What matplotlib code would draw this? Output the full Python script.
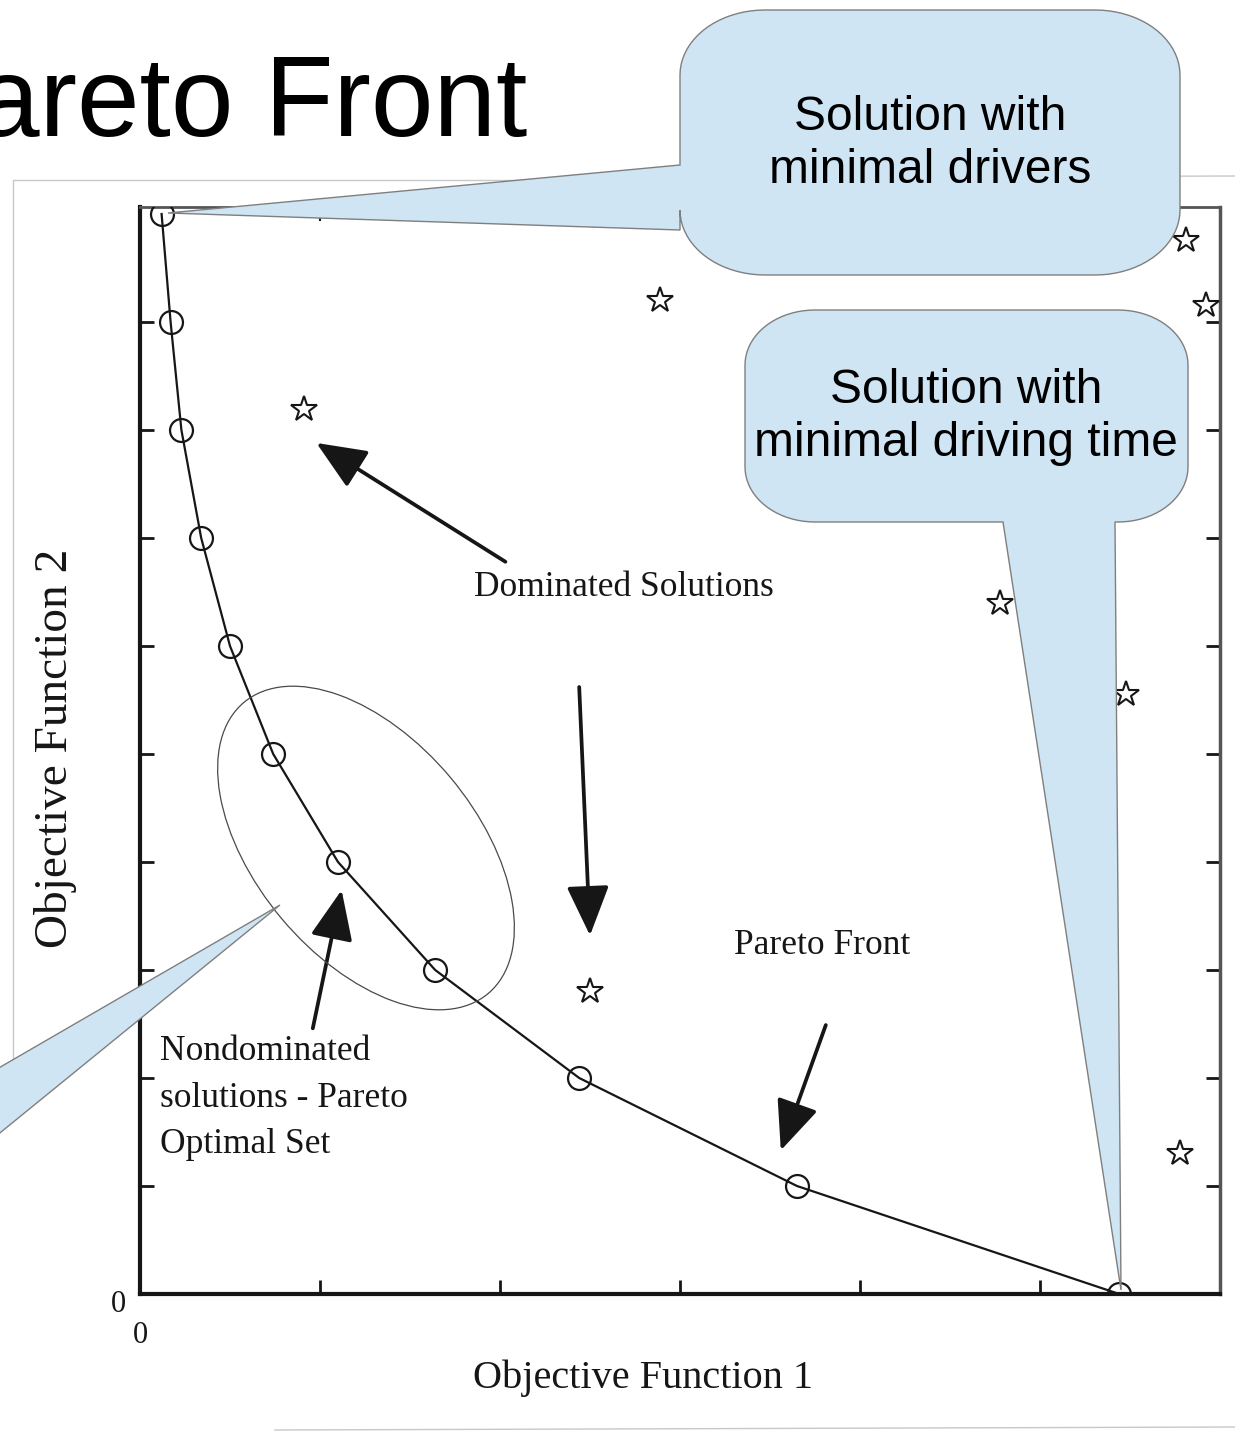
import numpy as np
import matplotlib
matplotlib.use('Agg')
import matplotlib.pyplot as plt
from matplotlib.patches import Polygon, Ellipse

# Pareto front (circles) and dominated solutions (stars)
front_x = [0.12, 0.17, 0.23, 0.34, 0.50, 0.74, 1.10, 1.64, 2.44, 3.65, 5.44]
front_y = [10, 9, 8, 7, 6, 5, 4, 3, 2, 1, 0]
dominated_x = [0.91, 2.89, 5.81, 5.92, 4.78, 5.48, 2.50, 5.78]
dominated_y = [8.19, 9.20, 9.76, 9.16, 6.40, 5.56, 2.81, 1.31]
x_ticks = [1, 2, 3, 4, 5]
y_ticks = [1, 2, 3, 4, 5, 6, 7, 8, 9]

W, H = 1235, 1433
SERIF = ['Liberation Serif', 'DejaVu Serif']
SANS = ['Liberation Sans', 'DejaVu Sans']
BLUE = '#cfe5f4'
INK = '#161616'

fig = plt.figure(figsize=(W / 100, H / 100), dpi=100)
fig.patch.set_facecolor('white')

# main chart axes (pixel box 140..1220 x 207..1294)
ax = fig.add_axes([140 / W, 1 - 1294 / H, 1080 / W, 1087 / H])
ax.set_xlim(0, 6)
ax.set_ylim(0, 1087 / 108)

ax.plot(front_x, front_y, '-', color=INK, lw=1.6, zorder=3)
ax.plot(front_x, front_y, 'o', ms=16.5, mfc='none', mec=INK, mew=1.6, zorder=4)
ax.plot(dominated_x, dominated_y, '*', ms=19, mfc='none', mec=INK, mew=1.5,
        linestyle='none', zorder=4)

for side in ['left', 'bottom']:
    ax.spines[side].set_linewidth(3)
    ax.spines[side].set_color(INK)
ax.spines['right'].set_linewidth(2.5)
ax.spines['right'].set_color('#555555')
ax.spines['top'].set_linewidth(2)
ax.spines['top'].set_color('#555555')

ax.set_xticks(x_ticks)
ax.set_yticks(y_ticks)
ax.set_xticklabels([])
ax.set_yticklabels([])
ax.tick_params(direction='in', length=10, width=2, color=INK,
               top=True, right=True)
for t in ax.xaxis.get_major_ticks():
    t.tick2line.set_color('#c4c4c4')
    t.tick2line.set_markeredgewidth(1.5)

# axis zeros
ax.text(-0.12, -0.1, '0', fontsize=22, family=SERIF, color=INK,
        ha='center', va='center', clip_on=False)
ax.text(0.0, -0.38, '0', fontsize=22, family=SERIF, color=INK,
        ha='center', va='center', clip_on=False)

# chart annotations
ax.text(2.69, 6.54, 'Dominated Solutions', fontsize=25.5, family=SERIF,
        color=INK, ha='center', va='center')
ax.text(3.79, 3.23, 'Pareto Front', fontsize=25.5, family=SERIF,
        color=INK, ha='center', va='center')
ax.text(0.11, 2.40, 'Nondominated\nsolutions - Pareto\nOptimal Set',
        fontsize=25.5, family=SERIF, color=INK, ha='left', va='top',
        linespacing=1.55)

arrow_kw = dict(arrowstyle='-|>,head_length=1.4,head_width=0.6',
                color=INK, lw=2.7, mutation_scale=22, shrinkA=0, shrinkB=0)
for tail, tip in [((2.03, 6.78), (0.98, 7.88)),
                  ((2.44, 5.62), (2.50, 3.32)),
                  ((3.81, 2.49), (3.56, 1.33)),
                  ((0.96, 2.46), (1.12, 3.74))]:
    ax.annotate('', xy=tip, xytext=tail, arrowprops=arrow_kw)

# overlay in figure pixels (y down) for slide elements
ov = fig.add_axes([0, 0, 1, 1])
ov.set_xlim(0, W)
ov.set_ylim(H, 0)
ov.axis('off')

# faint border of the scanned picture
ov.plot([13, 13, 600], [1062, 180, 180], color='#c8c8c8', lw=1)
ov.plot([600, 1235], [178, 176], color='#c8c8c8', lw=1)
ov.plot([275, 1235], [1430, 1427], color='#c8c8c8', lw=1)

ov.text(527, 136, 'Pareto Front', fontsize=81, family=SANS, color='black',
        ha='right', va='baseline')

ov.add_patch(Ellipse((366, 848), 380, 220, angle=50, fill=False,
                     ec='#4a4a4a', lw=0.9, zorder=5))


def bubble(x0, y0, x1, y1, rx, ry, side, tail):
    def arc(cx, cy, a0, a1):
        t = np.radians(np.linspace(a0, a1, 20))
        return list(zip(cx + rx * np.cos(t), cy + ry * np.sin(t)))
    pts = arc(x0 + rx, y0 + ry, 180, 270)
    pts += arc(x1 - rx, y0 + ry, 270, 360)
    if side == 'right':
        pts += tail
    pts += arc(x1 - rx, y1 - ry, 0, 90)
    if side == 'bottom':
        pts += tail
    pts += arc(x0 + rx, y1 - ry, 90, 180)
    if side == 'left':
        pts += tail
    return Polygon(pts, closed=True, fc=BLUE, ec='#7f7f7f', lw=1, zorder=6)


ov.add_patch(bubble(680, 10, 1180, 275, 85, 65, 'left',
                    [(680, 230), (168, 213), (680, 165)]))
ov.text(930, 144, 'Solution with\nminimal drivers', fontsize=34.5, family=SANS,
        ha='center', va='center', linespacing=1.22, zorder=7)

ov.add_patch(bubble(745, 310, 1188, 522, 70, 55, 'bottom',
                    [(1115, 522), (1121, 1290), (1003, 522)]))
ov.text(966, 417, 'Solution with\nminimal driving time', fontsize=34.5,
        family=SANS, ha='center', va='center', linespacing=1.22, zorder=7)

ov.add_patch(bubble(-500, 950, -10, 1250, 70, 55, 'right',
                    [(-10, 1073), (280, 905), (-10, 1141)]))

# axis titles
ov.text(643, 1378, 'Objective Function 1', fontsize=29, family=SERIF,
        color=INK, ha='center', va='center')
ov.text(56, 748, 'Objective Function 2', fontsize=34, family=SERIF,
        color=INK, ha='center', va='center', rotation=90)

fig.savefig('out.png', dpi=100)
